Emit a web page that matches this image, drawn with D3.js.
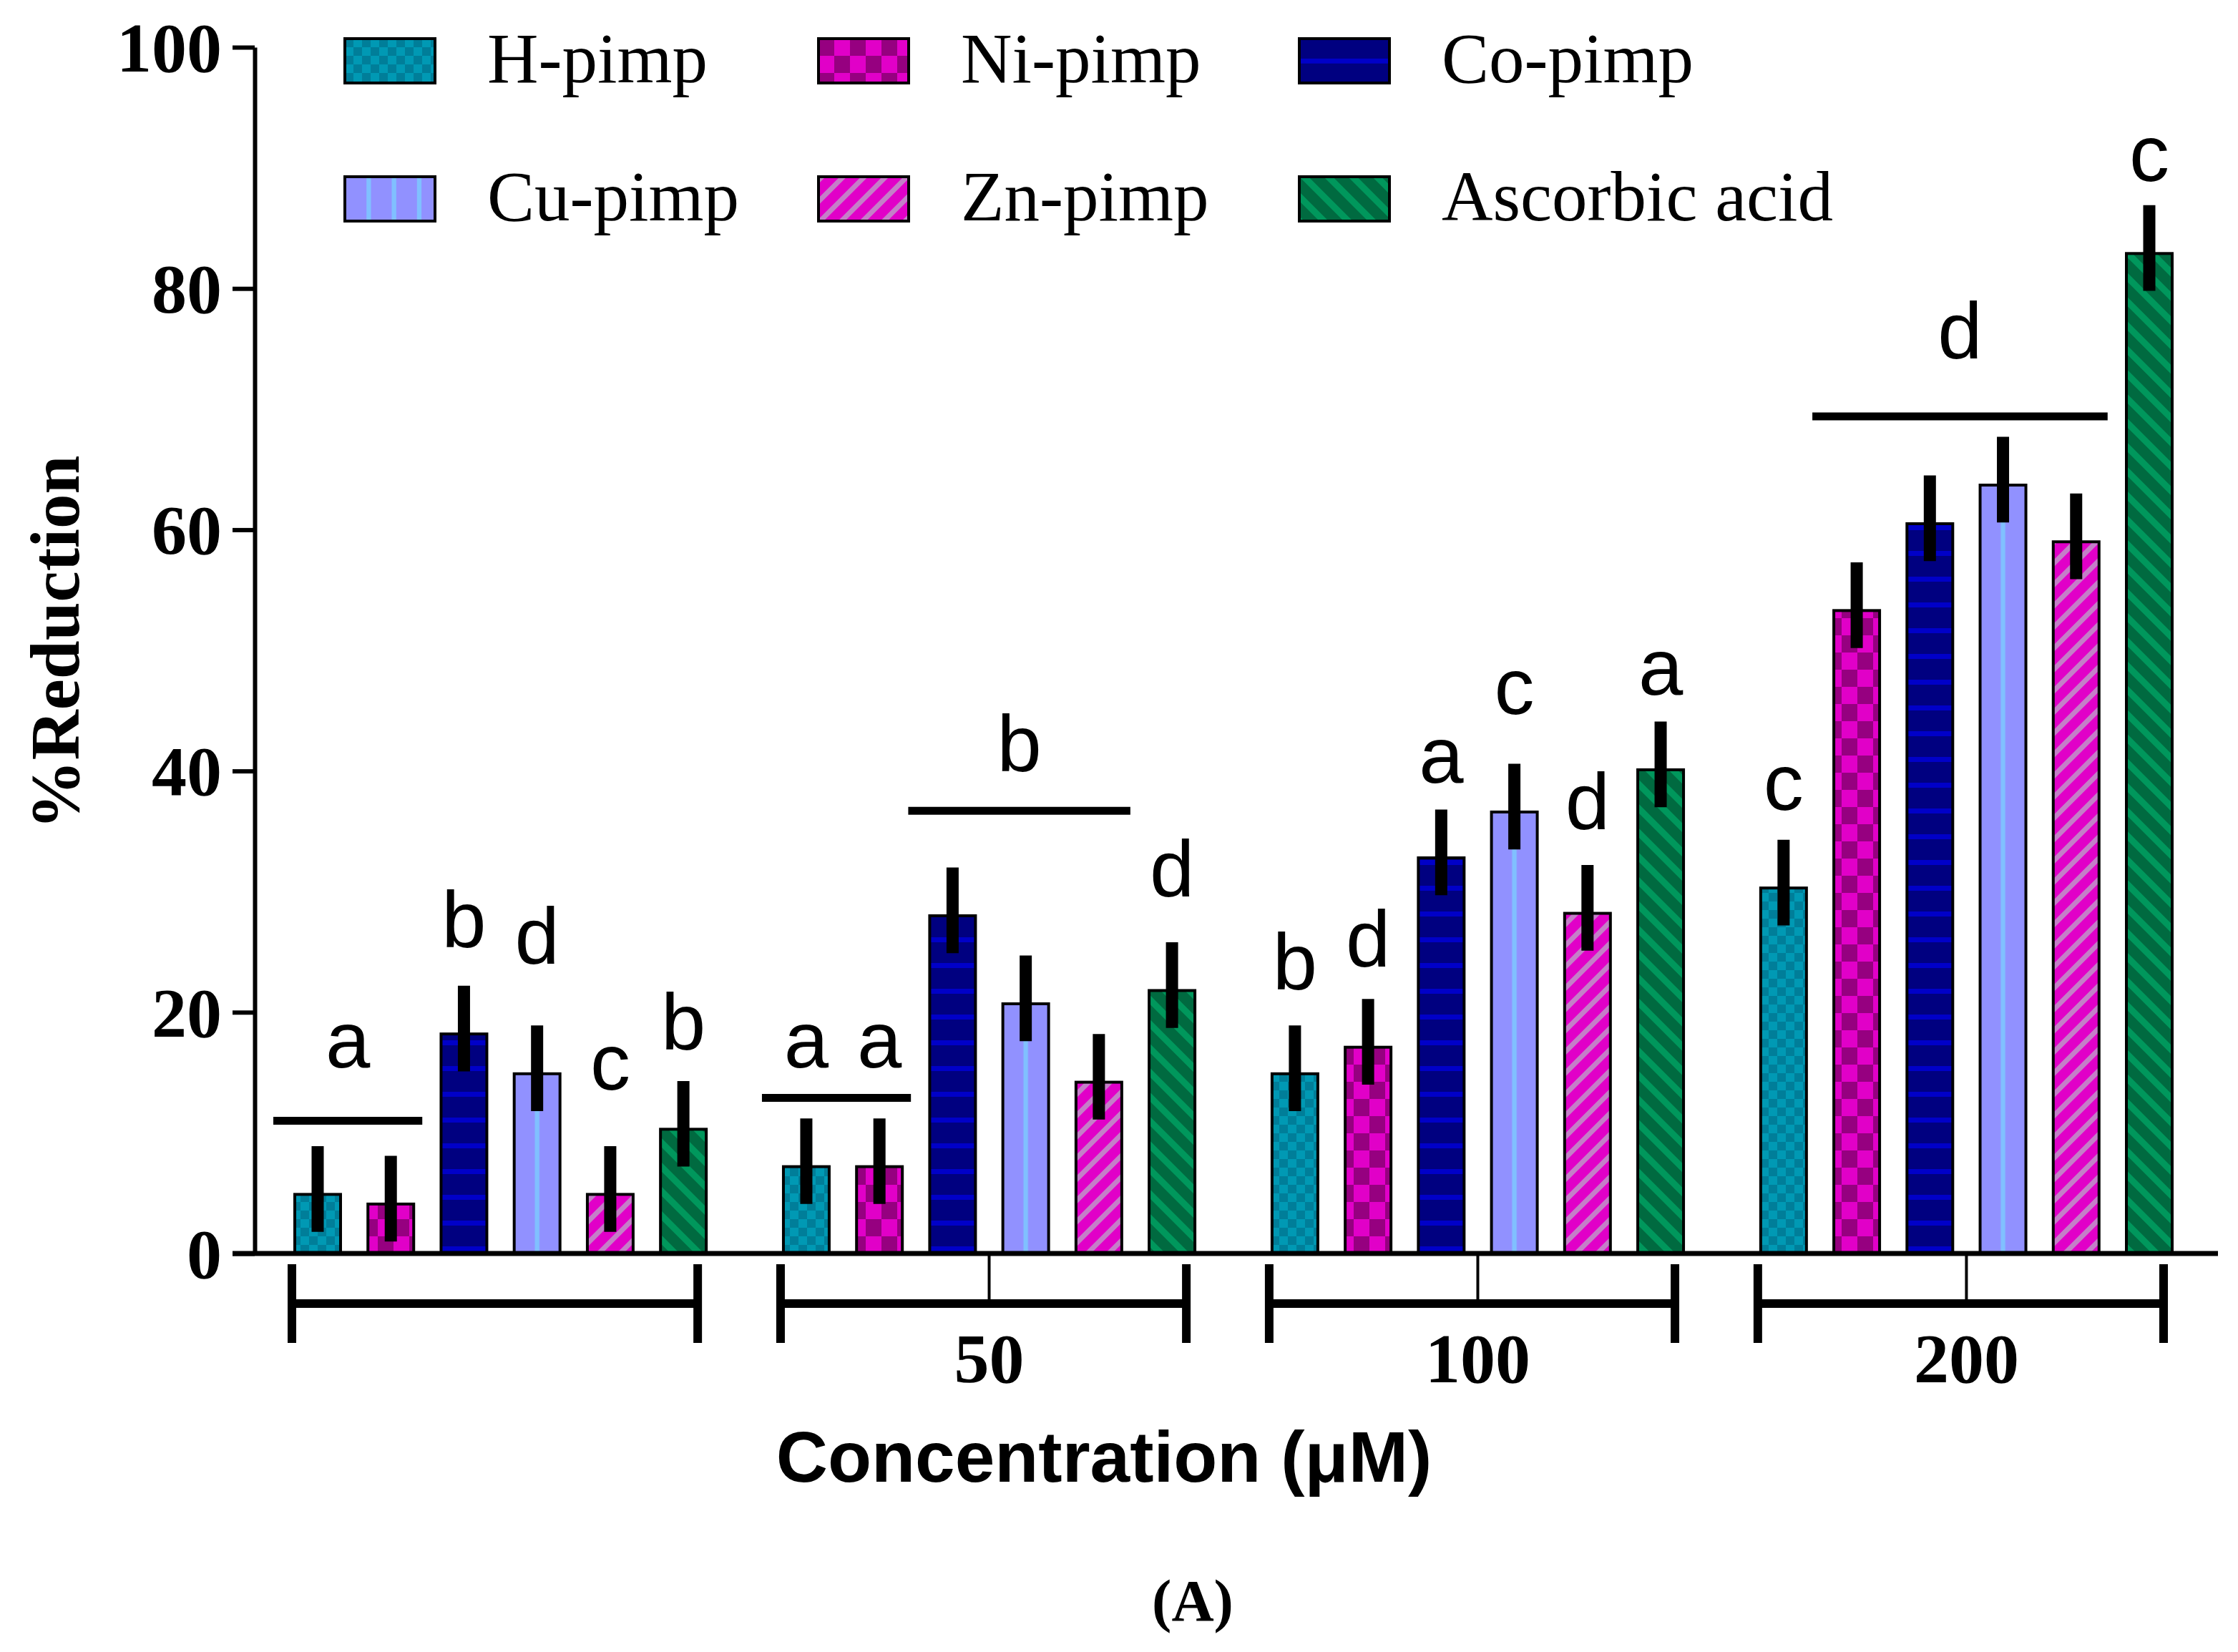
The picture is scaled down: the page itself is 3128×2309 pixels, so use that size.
<!DOCTYPE html>
<html>
<head>
<meta charset="utf-8">
<script src="https://cdn.jsdelivr.net/npm/d3@7"></script>
<style>
  body { margin: 0; background: #fff; }
  svg { display: block; }
</style>
</head>
<body>
<div id="chart"></div>
<script>
// svg container
var svgWidth = 3128;
var svgHeight = 2309;

// data
var tickLabels = ["", "50", "100", "200"];
var series = ["H-pimp", "Ni-pimp", "Co-pimp", "Cu-pimp", "Zn-pimp", "Ascorbic acid"];

var hPimp    = [4.9, 7.2, 14.9, 30.3];
var niPimp   = [4.1, 7.2, 17.1, 53.3];
var coPimp   = [18.2, 28.0, 32.8, 60.5];
var cuPimp   = [14.9, 20.7, 36.6, 63.7];
var znPimp   = [4.9, 14.2, 28.2, 59.0];
var ascorbic = [10.3, 21.8, 40.1, 82.9];

// error bar reach above / below the mean
var errUp = 4.0;
var errDown = 3.1;

var yTicks = [0, 20, 40, 60, 80, 100];

// letters over single bars: [group, series index, letter, baseline value]
var barLetters = [
  [0, 2, "b", 25.4], [0, 3, "d", 24.0], [0, 4, "c", 13.6], [0, 5, "b", 16.9],
  [1, 0, "a", 15.4], [1, 1, "a", 15.4], [1, 5, "d", 29.6],
  [2, 0, "b", 21.9], [2, 1, "d", 23.8], [2, 2, "a", 39.0], [2, 3, "c", 44.7], [2, 4, "d", 35.2], [2, 5, "a", 46.3],
  [3, 0, "c", 36.8], [3, 5, "c", 88.9]
];

// lines over several bars: [group, from series, to series, line value, letter, letter baseline value]
var groupLines = [
  [0, 0, 1, 11.0, "a", 15.4],
  [1, 0, 1, 12.9, "", 0],
  [1, 2, 4, 36.7, "b", 40.0],
  [3, 1, 4, 69.4, "d", 74.2]
];

var allValues = [hPimp, niPimp, coPimp, cuPimp, znPimp, ascorbic];

var rows = [];
tickLabels.forEach(function(g, gi) {
  series.forEach(function(s, si) {
    rows.push({ group: g, gi: gi, series: s, si: si, value: allValues[si][gi] });
  });
});

var serif = "'Liberation Serif', 'Times New Roman', serif";
var sans = "'Liberation Sans', Arial, sans-serif";

var svg = d3.select("#chart").append("svg")
  .attr("width", svgWidth)
  .attr("height", svgHeight);

// patterns
var defs = svg.append("defs");

function checker(id, w, h, light, dark) {
  var p = defs.append("pattern").attr("id", id)
    .attr("patternUnits", "userSpaceOnUse")
    .attr("width", w * 2).attr("height", h * 2);
  p.append("rect").attr("width", w * 2).attr("height", h * 2).attr("fill", light);
  p.append("rect").attr("width", w).attr("height", h).attr("fill", dark);
  p.append("rect").attr("x", w).attr("y", h).attr("width", w).attr("height", h).attr("fill", dark);
}
checker("pH", 12, 12, "#0099b4", "#007e99");
checker("pNi", 22, 24, "#e100c8", "#960080");

function stripes(id, period, thick, angle, base, line) {
  var p = defs.append("pattern").attr("id", id)
    .attr("patternUnits", "userSpaceOnUse")
    .attr("width", period).attr("height", period)
    .attr("patternTransform", "rotate(" + angle + ")");
  p.append("rect").attr("width", period).attr("height", period).attr("fill", base);
  p.append("rect").attr("width", thick).attr("height", period).attr("fill", line);
}
stripes("pZn", 21, 7, 45, "#e100c8", "#c47fc8");
stripes("pAA", 24, 9, -45, "#006a40", "#00975c");

// Co bars: horizontal lines
var pCo = defs.append("pattern").attr("id", "pCo")
  .attr("patternUnits", "userSpaceOnUse").attr("width", 10).attr("height", 36);
pCo.append("rect").attr("width", 10).attr("height", 36).attr("fill", "#000080");
pCo.append("rect").attr("y", 14).attr("width", 10).attr("height", 7).attr("fill", "#0000c8");

// Co legend: one line through the middle
var pCoL = defs.append("pattern").attr("id", "pCoL")
  .attr("patternUnits", "objectBoundingBox").attr("patternContentUnits", "objectBoundingBox")
  .attr("width", 1).attr("height", 1);
pCoL.append("rect").attr("width", 1).attr("height", 1).attr("fill", "#000080");
pCoL.append("rect").attr("y", 0.45).attr("width", 1).attr("height", 0.11).attr("fill", "#0000c8");

// Cu bars: one vertical line in the middle
var pCu = defs.append("pattern").attr("id", "pCu")
  .attr("patternUnits", "objectBoundingBox").attr("patternContentUnits", "objectBoundingBox")
  .attr("width", 1).attr("height", 1);
pCu.append("rect").attr("width", 1).attr("height", 1).attr("fill", "#9191ff");
pCu.append("rect").attr("x", 0.45).attr("width", 0.1).attr("height", 1).attr("fill", "#80c0ff");

// Cu legend: three vertical lines
var pCuL = defs.append("pattern").attr("id", "pCuL")
  .attr("patternUnits", "objectBoundingBox").attr("patternContentUnits", "objectBoundingBox")
  .attr("width", 1).attr("height", 1);
pCuL.append("rect").attr("width", 1).attr("height", 1).attr("fill", "#9191ff");
[0.24, 0.52, 0.8].forEach(function(x) {
  pCuL.append("rect").attr("x", x).attr("width", 0.05).attr("height", 1).attr("fill", "#80c0ff");
});

var barFill = { "H-pimp": "url(#pH)", "Ni-pimp": "url(#pNi)", "Co-pimp": "url(#pCo)",
  "Cu-pimp": "url(#pCu)", "Zn-pimp": "url(#pZn)", "Ascorbic acid": "url(#pAA)" };
var legendFill = { "H-pimp": "url(#pH)", "Ni-pimp": "url(#pNi)", "Co-pimp": "url(#pCoL)",
  "Cu-pimp": "url(#pCuL)", "Zn-pimp": "url(#pZn)", "Ascorbic acid": "url(#pAA)" };

// scales
var y = d3.scaleLinear().domain([0, 100]).range([1752, 66]);

var x0 = d3.scaleBand().domain(tickLabels)
  .range([410, 3038])
  .paddingInner(0.152)
  .paddingOuter(0);

var x1 = d3.scaleBand().domain(series)
  .range([2, x0.bandwidth() - 2])
  .paddingInner(0.374);

var axisX = 356;

// bars
svg.append("g").selectAll("rect")
  .data(rows)
  .enter()
  .append("rect")
  .attr("x", d => x0(d.group) + x1(d.series))
  .attr("y", d => y(d.value))
  .attr("width", x1.bandwidth())
  .attr("height", d => y(0) - y(d.value))
  .attr("fill", d => barFill[d.series])
  .attr("stroke", "black")
  .attr("stroke-width", 4);

// error bars
svg.append("g").selectAll("line")
  .data(rows)
  .enter()
  .append("line")
  .attr("x1", d => x0(d.group) + x1(d.series) + x1.bandwidth() / 2)
  .attr("x2", d => x0(d.group) + x1(d.series) + x1.bandwidth() / 2)
  .attr("y1", d => y(d.value + errUp))
  .attr("y2", d => y(d.value - errDown))
  .attr("stroke", "black")
  .attr("stroke-width", 17);

// y axis
var yAxis = d3.axisLeft(y).tickValues(yTicks).tickSize(31).tickSizeOuter(0).tickPadding(15);
var yg = svg.append("g")
  .attr("transform", `translate(${axisX}, 0)`)
  .call(yAxis);
yg.select(".domain").attr("stroke-width", 6);
yg.selectAll(".tick line").attr("stroke-width", 6);
yg.selectAll(".tick text")
  .attr("font-family", serif)
  .attr("font-weight", "bold")
  .attr("font-size", 98)
  .attr("dy", "0.34em");

// x baseline
svg.append("line")
  .attr("x1", axisX - 31).attr("x2", 3100)
  .attr("y1", y(0)).attr("y2", y(0))
  .attr("stroke", "black").attr("stroke-width", 7);

// x axis ticks at labelled groups
var xAxis = d3.axisBottom(x0)
  .tickValues(tickLabels.filter(t => t !== ""))
  .tickSize(72)
  .tickPadding(38);
var xg = svg.append("g")
  .attr("transform", `translate(0, ${y(0)})`)
  .call(xAxis);
xg.select(".domain").remove();
xg.selectAll(".tick line").attr("stroke-width", 4);
xg.selectAll(".tick text")
  .attr("font-family", serif)
  .attr("font-weight", "bold")
  .attr("font-size", 98);

// group brackets
var bracketY = 1822;
var brackets = svg.append("g").attr("stroke", "black").attr("stroke-width", 12);
tickLabels.forEach(function(g) {
  var left = x0(g) - 2;
  var right = x0(g) + x0.bandwidth() - 14;
  brackets.append("line").attr("x1", left).attr("x2", right)
    .attr("y1", bracketY).attr("y2", bracketY);
  brackets.append("line").attr("x1", left).attr("x2", left)
    .attr("y1", bracketY - 55).attr("y2", bracketY + 55);
  brackets.append("line").attr("x1", right).attr("x2", right)
    .attr("y1", bracketY - 55).attr("y2", bracketY + 55);
});

// significance letters
var barCenter = (gi, si) => x0(tickLabels[gi]) + x1(series[si]) + x1.bandwidth() / 2;

svg.append("g").selectAll("text")
  .data(barLetters)
  .enter()
  .append("text")
  .attr("x", d => barCenter(d[0], d[1]))
  .attr("y", d => y(d[3]))
  .attr("text-anchor", "middle")
  .attr("font-family", sans)
  .attr("font-size", 112)
  .text(d => d[2]);

var lineG = svg.append("g");
groupLines.forEach(function(d) {
  var g = tickLabels[d[0]];
  var left = x0(g) + x1(series[d[1]]) - 30;
  var right = x0(g) + x1(series[d[2]]) + x1.bandwidth() + 12;
  lineG.append("line")
    .attr("x1", left).attr("x2", right)
    .attr("y1", y(d[3])).attr("y2", y(d[3]))
    .attr("stroke", "black").attr("stroke-width", 11);
  if (d[4]) {
    lineG.append("text")
      .attr("x", (left + right) / 2)
      .attr("y", y(d[5]))
      .attr("text-anchor", "middle")
      .attr("font-family", sans)
      .attr("font-size", 112)
      .text(d[4]);
  }
});

// legend
var legendX = [482, 1144, 1816];
var legendY = [54, 247];
var legend = svg.append("g").selectAll("g")
  .data(series)
  .enter()
  .append("g")
  .attr("transform", (d, i) => `translate(${legendX[i % 3]}, ${legendY[Math.floor(i / 3)]})`);

legend.append("rect")
  .attr("width", 126)
  .attr("height", 62)
  .attr("fill", d => legendFill[d])
  .attr("stroke", "black")
  .attr("stroke-width", 4);

legend.append("text")
  .attr("x", 199)
  .attr("y", 61)
  .attr("font-family", serif)
  .attr("font-size", 99)
  .text(d => d);

// axes labels
svg.append("text")
  .attr("transform", `translate(110, 898) rotate(-90)`)
  .attr("text-anchor", "middle")
  .attr("font-family", serif)
  .attr("font-weight", "bold")
  .attr("font-size", 97)
  .text("%Reduction");

svg.append("text")
  .attr("x", 1543)
  .attr("y", 2071)
  .attr("text-anchor", "middle")
  .attr("font-family", sans)
  .attr("font-weight", "bold")
  .attr("font-size", 100)
  .text("Concentration (\u03BCM)");

svg.append("text")
  .attr("x", 1667)
  .attr("y", 2265)
  .attr("text-anchor", "middle")
  .attr("font-family", serif)
  .attr("font-weight", "bold")
  .attr("font-size", 82)
  .text("(A)");
</script>
</body>
</html>
